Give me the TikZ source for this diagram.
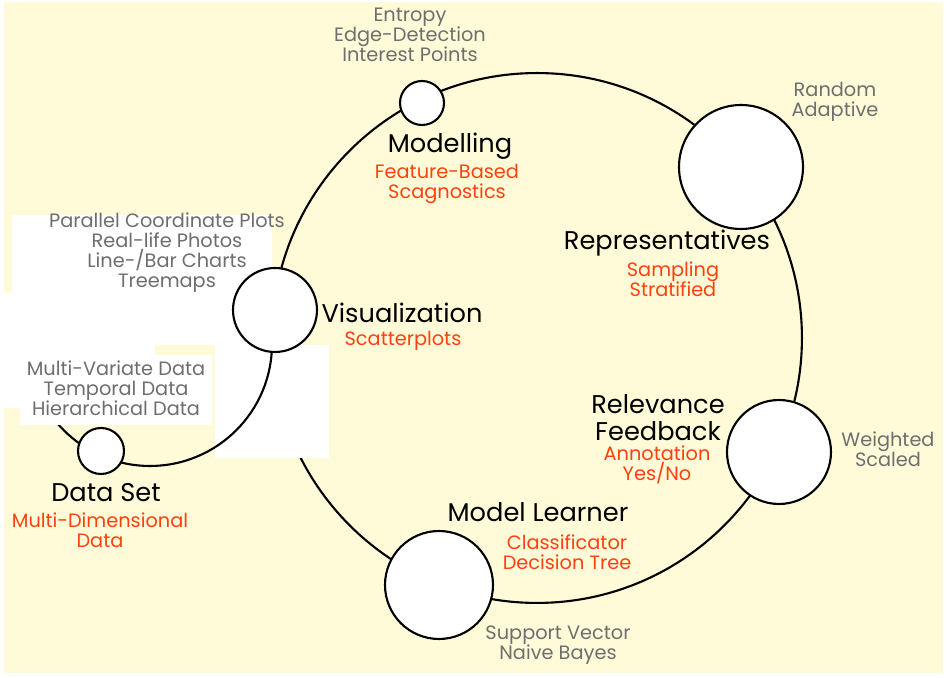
\documentclass[tikz,border=0pt]{standalone}
\usepackage{fontspec}
\setmainfont{Poppins}
\definecolor{bgyellow}{HTML}{FFFBD8}
\definecolor{txtgray}{HTML}{6E6E6E}
\definecolor{txtred}{HTML}{FF4010}
\tikzset{
  ringline/.style={draw=black, line width=1.2pt},
  dot/.style={circle, draw=black, fill=white, line width=1.2pt, inner sep=0pt},
  mask/.style={fill=white, draw=none},
  head/.style={inner sep=0pt, align=center, text=black, font=\fontsize{14.6}{15.3}\selectfont},
  sub/.style={inner sep=0pt, align=center, text=txtred, font=\fontsize{11}{11.4}\selectfont},
  note/.style={inner sep=0pt, align=center, text=txtgray, font=\fontsize{11}{11.4}\selectfont},
}
\begin{document}
\begin{tikzpicture}[x=0.02cm, y=-0.02cm]
\useasboundingbox (0,0) rectangle (948,678);
\fill[bgyellow] (4,2) rectangle (943,673);
% main cycle
\coordinate (cyc) at (537,338);
\draw[ringline] (cyc) circle[radius=5.3cm];
\fill[mask] (215,345) rectangle (329,458);
% data set loop
\coordinate (dsc) at (150,344);
\draw[ringline] (dsc) circle[radius=2.44cm];
% masks
\fill[mask] (12,215) rectangle (272,345);
\fill[mask] (0,293) rectangle (155,408);
\fill[mask] (20,355) rectangle (212,425);
% circles
\node[dot, minimum size=0.88cm] (mod) at (422,103) {};
\node[dot, minimum size=2.48cm] (rep) at (741,167) {};
\node[dot, minimum size=1.68cm] (vis) at (275,310) {};
\node[dot, minimum size=0.92cm] (ds) at (101,451) {};
\node[dot, minimum size=2.08cm] (rel) at (779,452) {};
\node[dot, minimum size=2.16cm] (ml) at (439,585) {};
% texts
\node[note] (modn) at (410,35) {Entropy\\Edge-Detection\\Interest Points};
\node[head] (modh) at (450,146) {Modelling};
\node[sub] (mods) at (447,183.5) {Feature-Based\\Scagnostics};
\node[note] (repn) at (835,102) {Random\\Adaptive};
\node[head] (reph) at (667,243) {Representatives};
\node[sub] (reps) at (673,279) {Sampling\\Stratified};
\node[note] (visn) at (167,253) {Parallel Coordinate Plots\\Real-life Photos\\Line-/Bar Charts\\Treemaps};
\node[head] (vish) at (402,313) {Visualization};
\node[sub] (viss) at (403,341) {Scatterplots};
\node[note] (dsn) at (116,388.5) {Multi-Variate Data\\Temporal Data\\Hierarchical Data};
\node[head] (dsh) at (106,493) {Data Set};
\node[sub] (dss) at (100,530) {Multi-Dimensional\\Data};
\node[head] (relh) at (658,417.5) {Relevance\\Feedback};
\node[sub] (rels) at (657,465) {Annotation\\Yes/No};
\node[note] (reln) at (888,449.5) {Weighted\\Scaled};
\node[head] (mlh) at (538,512) {Model Learner};
\node[sub] (mls) at (567,552.5) {Classificator\\Decision Tree};
\node[note] (mln) at (558,645) {Support Vector\\Naive Bayes};
\end{tikzpicture}
\end{document}
